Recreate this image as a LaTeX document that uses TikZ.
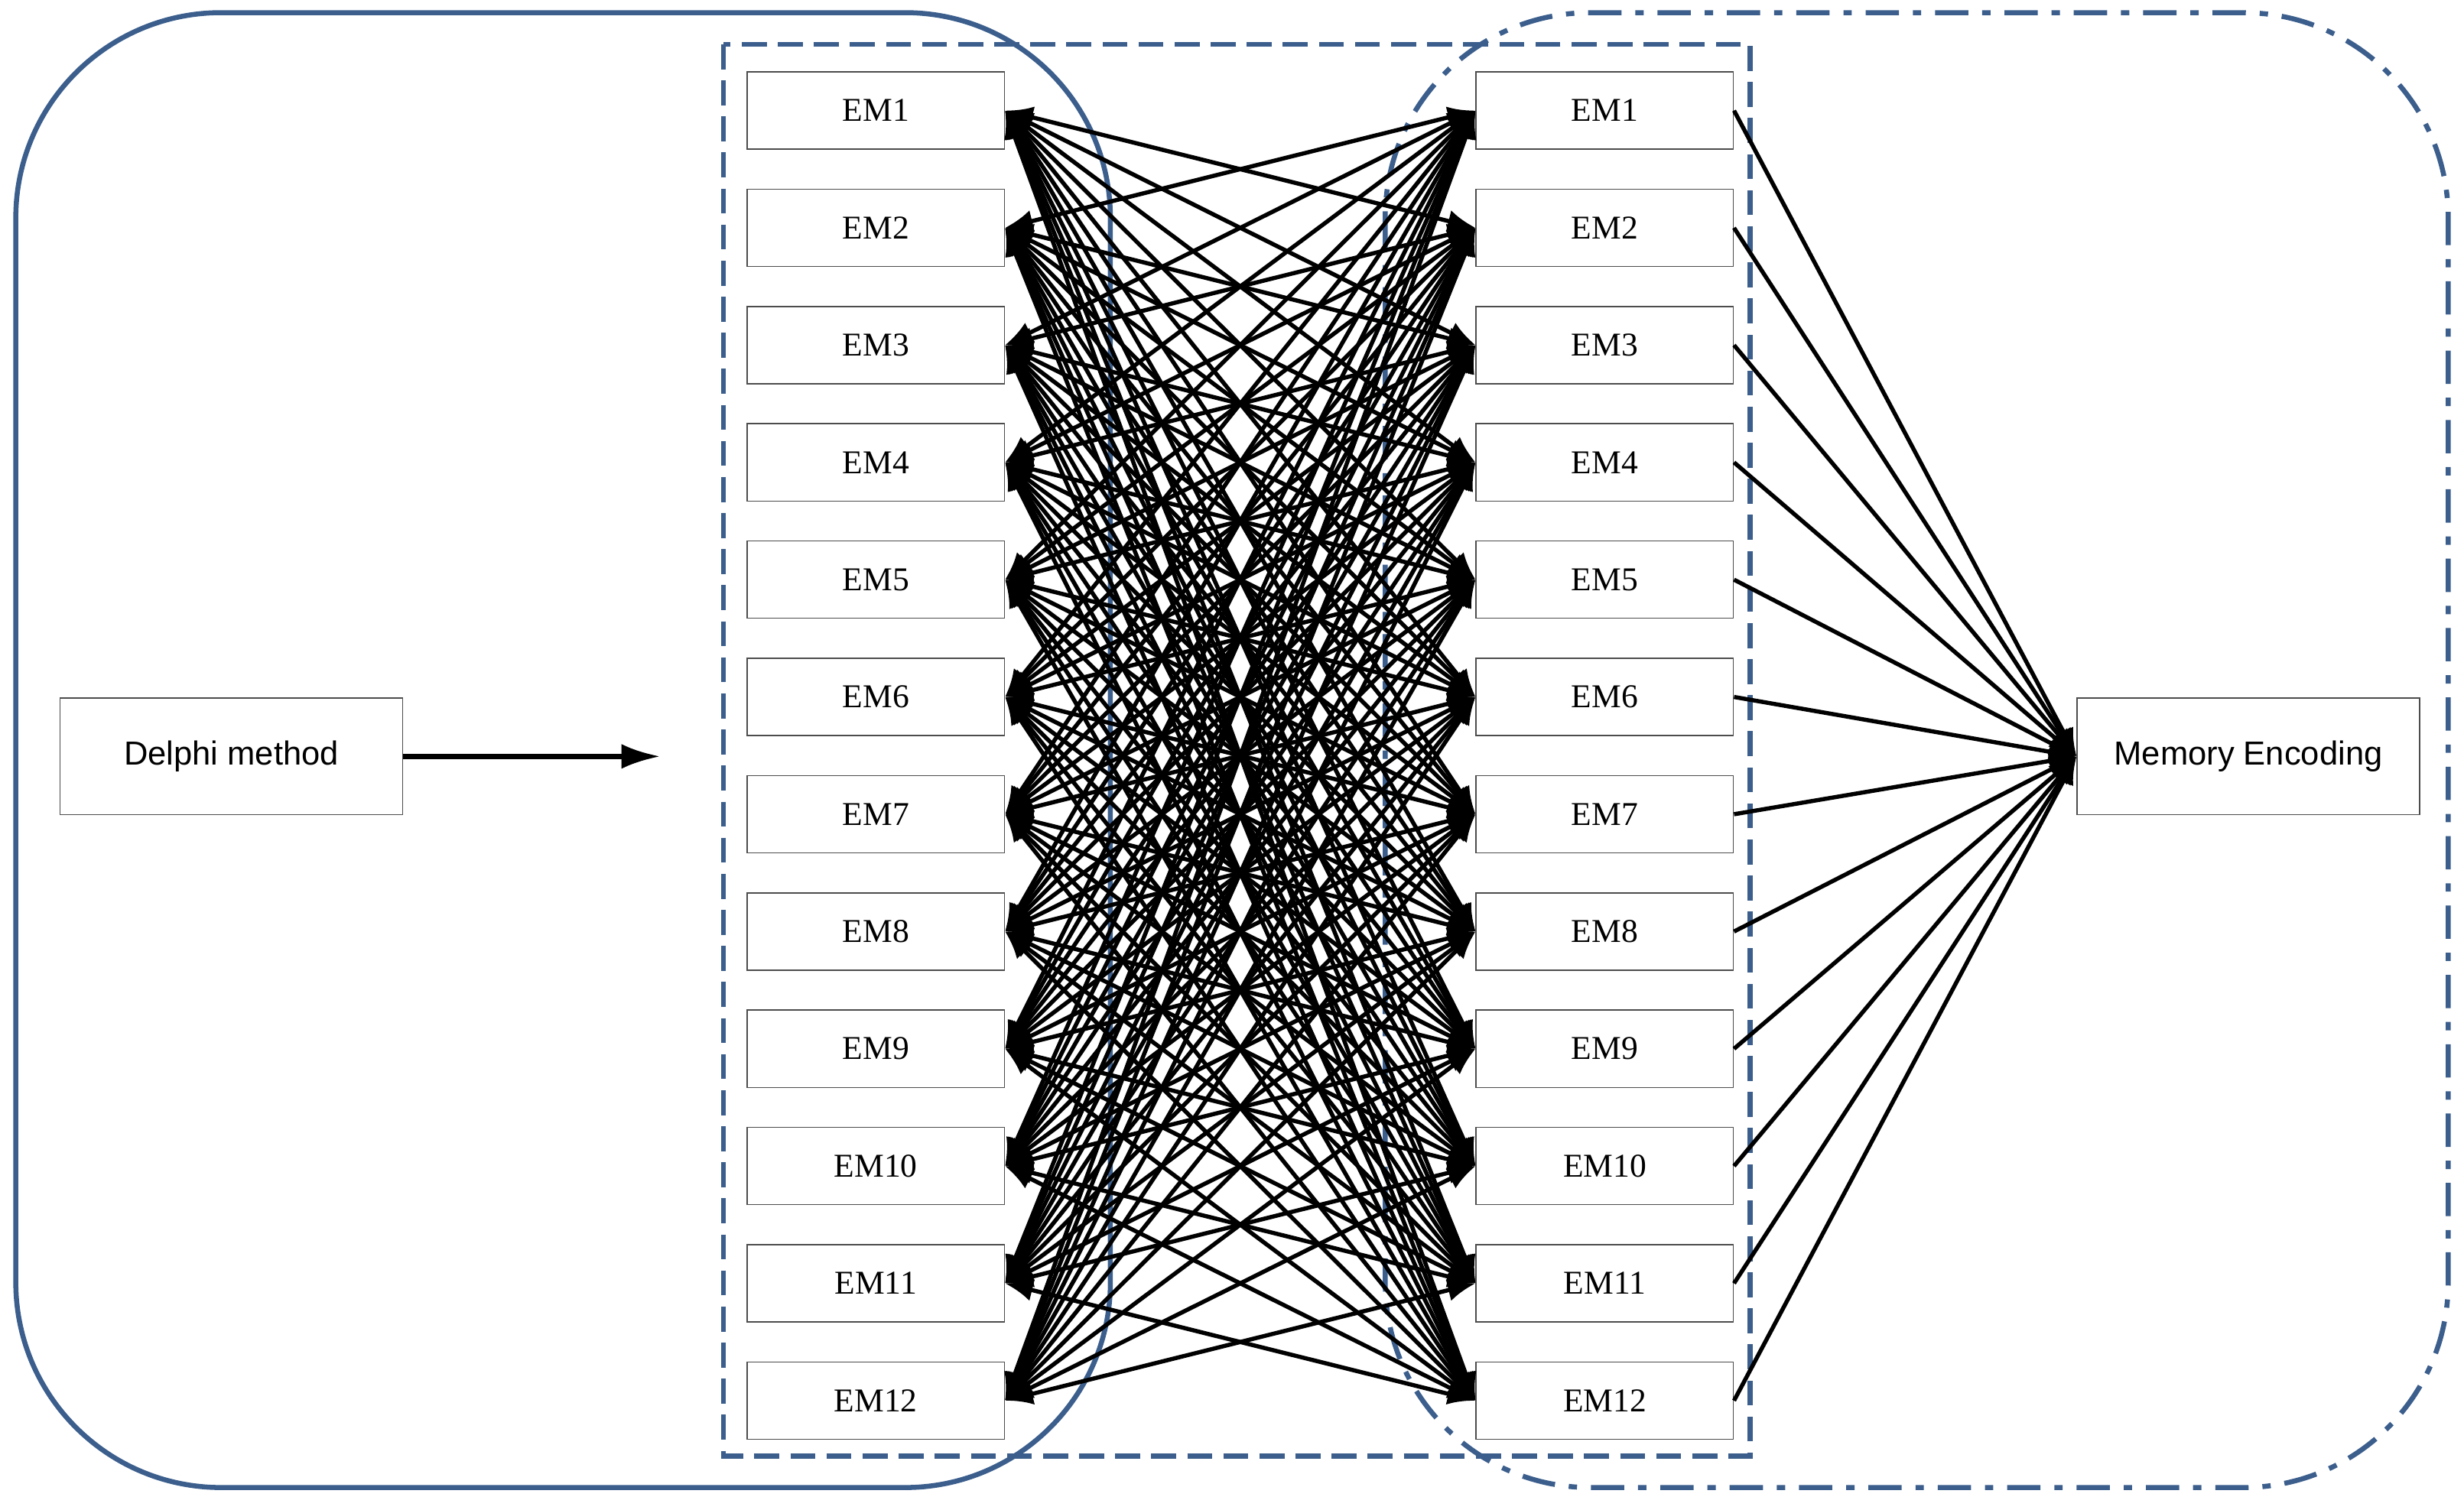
\documentclass[tikz,border=0pt]{standalone}
\usepackage{fontspec}
\setmainfont{Liberation Serif}
\newfontfamily\sansf{Liberation Sans}
\usetikzlibrary{arrows.meta}
\definecolor{frame}{HTML}{3B5E8C}
\begin{document}
\begin{tikzpicture}[x=0.02cm,y=-0.02cm,
  em/.style={draw=black!70,line width=0.4pt,minimum width=3.26cm,minimum height=0.98cm,inner sep=0pt,font=\fontsize{12}{14}\selectfont},
  big/.style={draw=black!70,line width=0.4pt,minimum width=4.34cm,minimum height=1.48cm,inner sep=0pt,font=\sansf\fontsize{12}{14}\selectfont},
  link/.style={line width=1.5pt,{Latex[length=10pt,width=8pt]}-{Latex[length=10pt,width=8pt]}},
  fan/.style={line width=1.5pt,-{Latex[length=10pt,width=8pt]}},
  fr/.style={draw=frame,line width=1.8pt}]
\useasboundingbox (0,0) rectangle (1560,948);
\draw[fr,rounded corners=2.6cm] (10,8) rectangle (703,942);
\draw[fr,dash pattern=on 9pt off 4pt] (458,28) rectangle (1108,922);
\draw[fr,rounded corners=2.6cm,dash pattern=on 12pt off 5pt on 3pt off 5pt] (877,8) rectangle (1550,942);
\foreach \i in {1,...,12}{
  \node[em] (L\i) at (554.5,{70+(\i-1)*74.27}) {EM\i};
  \node[em] (R\i) at (1016,{70+(\i-1)*74.27}) {EM\i};
}
\node[big] (D) at (146.5,479) {Delphi method};
\node[big] (M) at (1423.5,479) {Memory Encoding};
\coordinate (A) at (418,479);
\draw[line width=1.8pt,-{Latex[length=14pt,width=9pt]}] (D) -- (A);
\foreach \i in {1,...,12}{
  \foreach \j in {1,...,12}{
    \ifnum\i=\j\else\draw[link] (L\i.east) -- (R\j.west);\fi
  }
  \draw[fan] (R\i.east) -- (M.west);
}
\end{tikzpicture}
\end{document}
